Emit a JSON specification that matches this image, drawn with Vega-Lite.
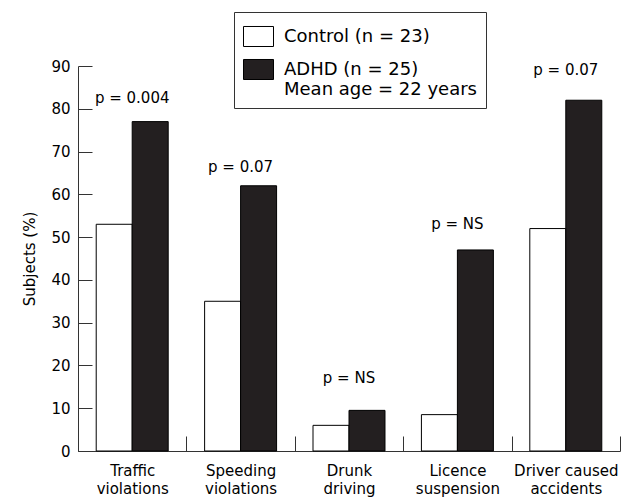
{
  "$schema": "https://vega.github.io/schema/vega-lite/v6.json",
  "width": 542,
  "height": 385,
  "autosize": {"type": "none"},
  "padding": {"left": 78, "top": 66, "right": 1, "bottom": 50},
  "background": "white",
  "config": {"view": {"stroke": null}, "font": "DejaVu Sans"},
  "datasets": {
    "bars": [
      {"behaviour": "Traffic violations", "group": "Control", "percent": 53},
      {"behaviour": "Traffic violations", "group": "ADHD", "percent": 77},
      {"behaviour": "Speeding violations", "group": "Control", "percent": 35},
      {"behaviour": "Speeding violations", "group": "ADHD", "percent": 62},
      {"behaviour": "Drunk driving", "group": "Control", "percent": 6},
      {"behaviour": "Drunk driving", "group": "ADHD", "percent": 9.5},
      {"behaviour": "Licence suspension", "group": "Control", "percent": 8.5},
      {"behaviour": "Licence suspension", "group": "ADHD", "percent": 47},
      {"behaviour": "Driver caused accidents", "group": "Control", "percent": 52},
      {"behaviour": "Driver caused accidents", "group": "ADHD", "percent": 82}
    ],
    "pvalues": [
      {"behaviour": "Traffic violations", "p": "p = 0.004", "percent": 82.6},
      {"behaviour": "Speeding violations", "p": "p = 0.07", "percent": 66.5},
      {"behaviour": "Drunk driving", "p": "p = NS", "percent": 17},
      {"behaviour": "Licence suspension", "p": "p = NS", "percent": 53},
      {"behaviour": "Driver caused accidents", "p": "p = 0.07", "percent": 89}
    ]
  },
  "layer": [
    {
      "data": {"name": "bars"},
      "mark": {"type": "bar", "stroke": "#000000", "strokeWidth": 1},
      "encoding": {
        "x": {
          "field": "behaviour",
          "type": "nominal",
          "sort": ["Traffic violations", "Speeding violations", "Drunk driving", "Licence suspension", "Driver caused accidents"],
          "scale": {"paddingInner": 0, "paddingOuter": 0},
          "axis": {
            "title": null,
            "labelAngle": 0,
            "tickBand": "extent",
            "tickSize": -15,
            "labelPadding": 27,
            "labelBaseline": "top",
            "labelLineHeight": 18,
            "labelExpr": "datum.value == 'Driver caused accidents' ? ['Driver caused', 'accidents'] : (isString(datum.value) ? split(datum.value, ' ') : '')",
            "labelFontSize": 15,
            "labelFont": "DejaVu Sans",
            "labelColor": "#000000",
            "labelLimit": 300,
            "domainColor": "#333333",
            "tickColor": "#333333",
            "grid": false
          }
        },
        "xOffset": {
          "field": "group",
          "type": "nominal",
          "sort": ["Control", "ADHD"],
          "scale": {"paddingInner": 0, "paddingOuter": 0.506}
        },
        "y": {
          "field": "percent",
          "type": "quantitative",
          "scale": {"domain": [0, 90], "nice": false},
          "axis": {
            "title": "Subjects (%)",
            "values": [0, 10, 20, 30, 40, 50, 60, 70, 80, 90],
            "tickSize": -14,
            "labelPadding": 22,
            "labelFontSize": 15,
            "labelFont": "DejaVu Sans",
            "labelColor": "#000000",
            "titleFontSize": 15,
            "titleFont": "DejaVu Sans",
            "titleFontWeight": "normal",
            "titleColor": "#000000",
            "titlePadding": 13,
            "domainColor": "#333333",
            "tickColor": "#333333",
            "grid": false
          }
        },
        "fill": {
          "field": "group",
          "type": "nominal",
          "sort": ["Control", "ADHD"],
          "scale": {"domain": ["Control", "ADHD"], "range": ["#ffffff", "#231f20"]},
          "legend": {
            "orient": "none",
            "legendX": 156,
            "legendY": -54,
            "title": null,
            "direction": "vertical",
            "padding": 9,
            "strokeColor": "#333333",
            "fillColor": "#ffffff",
            "symbolType": "M-1,-0.667H1V0.667H-1Z",
            "symbolSize": 900,
            "symbolStrokeColor": "#000000",
            "symbolStrokeWidth": 1,
            "labelFontSize": 18,
            "labelFont": "DejaVu Sans",
            "labelColor": "#000000",
            "labelOffset": 10,
            "labelLineHeight": 22,
            "labelLimit": 400,
            "rowPadding": 5,
            "labelExpr": "datum.value == 'Control' ? 'Control (n = 23)' : ['ADHD (n = 25)', 'Mean age = 22 years']"
          }
        }
      }
    },
    {
      "data": {"name": "pvalues"},
      "mark": {"type": "text", "fontSize": 15, "font": "DejaVu Sans", "color": "#000000"},
      "encoding": {
        "x": {
          "field": "behaviour",
          "type": "nominal",
          "sort": ["Traffic violations", "Speeding violations", "Drunk driving", "Licence suspension", "Driver caused accidents"]
        },
        "y": {"field": "percent", "type": "quantitative"},
        "text": {"field": "p", "type": "nominal"}
      }
    }
  ]
}
